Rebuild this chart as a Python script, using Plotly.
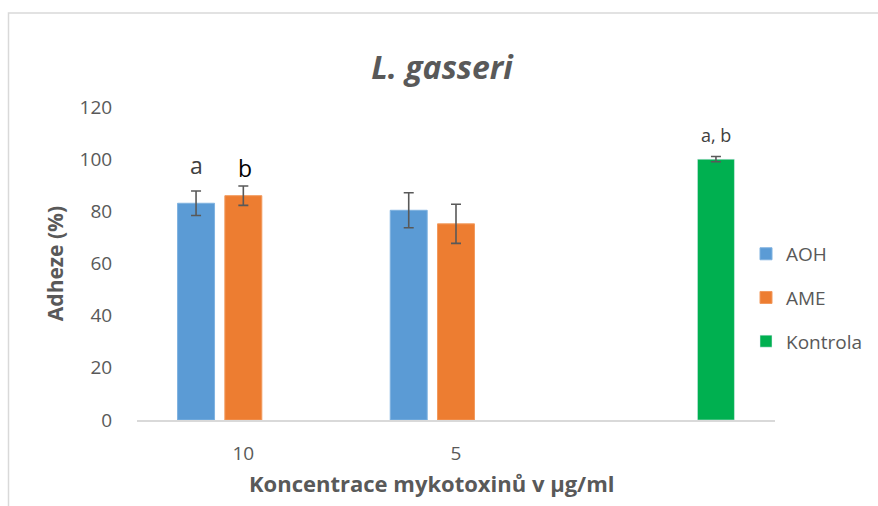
import plotly.graph_objects as go

categories = ["10", "5", "Kontrola"]
tick_labels = ["10", "5", ""]
aoh_values = [83.1, 80.4]
aoh_err = [4.7, 6.7]
ame_values = [86.0, 75.2]
ame_err = [3.7, 7.5]
kontrola_values = [100.0]
kontrola_err = [1.0]

FONT = "'Open Sans', Lato, sans-serif"
GRAY = "#595959"

W, H = 878, 506
PL, PR, PT, PB = 137, 103, 107, 86  # plot area: 638 x 313 px

fig = go.Figure()
err_style = dict(type="data", visible=True, color=GRAY, thickness=1.6, width=5)

fig.add_trace(go.Bar(name="AOH", x=categories[:2], y=aoh_values,
                     error_y=dict(array=aoh_err, **err_style),
                     marker=dict(color="#5B9BD5", line=dict(color="#7FB2E0", width=1)),
                     legendgroup="g1"))
fig.add_trace(go.Bar(name="AME", x=categories[:2], y=ame_values,
                     error_y=dict(array=ame_err, **err_style),
                     marker=dict(color="#ED7D31", line=dict(color="#F29A5E", width=1)),
                     legendgroup="g2"))
fig.add_trace(go.Bar(name="Kontrola", x=categories[2:], y=kontrola_values,
                     error_y=dict(array=kontrola_err, **err_style),
                     marker=dict(color="#00B050"),
                     legendgroup="g3"))

slot = 0.2224
letters = [
    dict(x=0 - slot, y=97.8, text="a", color="#404040", size=23),
    dict(x=0 + 0.01, y=96.5, text="b", color="#000000", size=23),
    dict(x=2 + slot, y=109.1, text="a, b", color="#404040", size=18),
]
annotations = [
    dict(x=l["x"], y=l["y"], xref="x", yref="y", text=l["text"], showarrow=False,
         font=dict(family=FONT, size=l["size"], color=l["color"]), yanchor="middle")
    for l in letters
]
annotations.append(dict(
    x=(432 - PL) / 638, y=(420 - 483) / 313, xref="paper", yref="paper",
    text="<b>Koncentrace mykotoxinů v µg/ml</b>", showarrow=False,
    font=dict(family=FONT, size=22, color=GRAY), xanchor="center", yanchor="middle"))

fig.update_layout(
    width=W, height=H,
    margin=dict(l=PL, r=PR, t=PT, b=PB, autoexpand=False),
    paper_bgcolor="white", plot_bgcolor="white",
    barmode="group", bargap=0.333, bargroupgap=0.218,
    title=dict(text="<b><i>L. gasseri</i></b>", x=442 / W, xanchor="center", xref="container",
               y=1 - 68 / H, yanchor="middle",
               font=dict(family=FONT, size=32, color=GRAY)),
    font=dict(family=FONT, color=GRAY),
    legend=dict(x=(746 - PL) / 638, xanchor="left", y=0.39, yanchor="middle",
                font=dict(family=FONT, size=19, color=GRAY),
                tracegroupgap=16, traceorder="grouped", bgcolor="rgba(0,0,0,0)"),
    annotations=annotations,
    shapes=[dict(type="rect", xref="paper", yref="paper",
                 x0=(8.5 - PL) / 638, x1=(884 - PL) / 638,
                 y0=(420 - 512) / 313, y1=(420 - 13) / 313,
                 line=dict(color="#D9D9D9", width=1.5), fillcolor="rgba(0,0,0,0)",
                 layer="below")],
)
fig.update_xaxes(type="category", categoryorder="array", categoryarray=categories,
                 tickvals=categories, ticktext=tick_labels, range=[-0.5, 2.5],
                 showline=True, linecolor="#D9D9D9", linewidth=1.5, showgrid=False,
                 ticks="outside", ticklen=15, tickcolor="rgba(0,0,0,0)",
                 tickfont=dict(family=FONT, size=19, color=GRAY))
fig.update_yaxes(range=[0, 120], dtick=20, showgrid=False, showline=False, zeroline=False,
                 ticks="outside", ticklen=20, tickcolor="rgba(0,0,0,0)",
                 tickfont=dict(family=FONT, size=19, color=GRAY),
                 title=dict(text="<b>Adheze (%)</b>", standoff=10,
                            font=dict(family=FONT, size=21, color=GRAY)))

fig.write_html("out.html", config={"displayModeBar": False},
               post_script="document.body.style.margin='0';document.body.style.overflow='hidden';")
